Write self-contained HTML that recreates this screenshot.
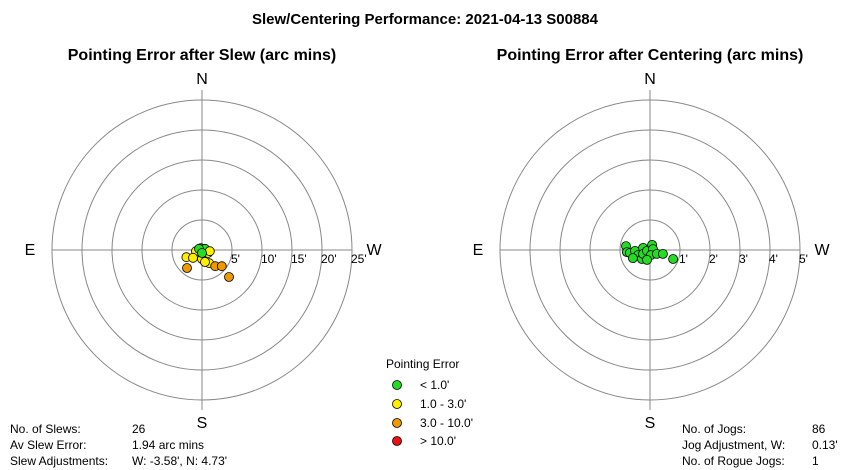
<!DOCTYPE html>
<html><head><meta charset="utf-8"><style>
body{margin:0;background:#fff;}
svg{display:block;font-family:"Liberation Sans",Arial,sans-serif;}
</style></head><body>
<svg id="chart" width="850" height="470" viewBox="0 0 850 470">
<rect width="850" height="470" fill="#fff"/>
<text x="425" y="24" text-anchor="middle" font-size="15" font-weight="bold">Slew/Centering Performance: 2021-04-13 S00884</text>
<g id="left"></g>
<g id="right"></g>
<g>
<text x="386" y="368" font-size="12">Pointing Error</text>
<g><circle cx="397" cy="385" r="4.5" fill="#22dd22" stroke="#000" stroke-width="0.8"/><text x="420" y="389" font-size="12">&lt; 1.0'</text></g>
<g><circle cx="397" cy="404" r="4.5" fill="#ffee00" stroke="#000" stroke-width="0.8"/><text x="420" y="408" font-size="12">1.0 - 3.0'</text></g>
<g><circle cx="397" cy="423" r="4.5" fill="#ee9900" stroke="#000" stroke-width="0.8"/><text x="420" y="427" font-size="12">3.0 - 10.0'</text></g>
<g><circle cx="397" cy="441" r="4.5" fill="#ee1111" stroke="#000" stroke-width="0.8"/><text x="420" y="445" font-size="12">&gt; 10.0'</text></g>
</g>
<g font-size="12">
<text x="10" y="433">No. of Slews:</text><text x="132" y="433">26</text>
<text x="10" y="449">Av Slew Error:</text><text x="132" y="449">1.94 arc mins</text>
<text x="10" y="465">Slew Adjustments:</text><text x="132" y="465">W: -3.58', N: 4.73'</text>
</g>
<g font-size="12">
<text x="682" y="433">No. of Jogs:</text><text x="812" y="433">86</text>
<text x="682" y="449">Jog Adjustment, W:</text><text x="812" y="449">0.13'</text>
<text x="682" y="465">No. of Rogue Jogs:</text><text x="812" y="465">1</text>
</g>
</svg>
<script>
const slewW = [-0.2,-1,0.5,-0.5,-2.6,-1.5,0,1,1.2,0.5,1.3,0,-2.5,2.2,3.3,4.5];
const slewN = [0.3,-0.2,0.2,0.2,-1.2,-1.3,-1.5,-0.5,-2.2,-2,-0.2,-0.5,-3,-2.7,-2.7,-4.5];
const slewTicks = ["5'","10'","15'","20'","25'"];
const jogW = [-0.8,-0.77,-0.67,-0.5,-0.4,-0.27,-0.23,-0.23,-0.1,0.07,0.1,0.03,0.23,0.43,0.77,-0.57,-0.1];
const jogN = [0.13,-0.07,-0.1,-0.03,-0.17,-0.3,0.07,-0.13,-0.03,0.17,0.03,-0.17,-0.13,-0.13,-0.3,-0.27,-0.33];
const jogTicks = ["1'","2'","3'","4'","5'"];
const NS='http://www.w3.org/2000/svg';
function mk(p,tag,a){const e=document.createElementNS(NS,tag);for(const k in a)e.setAttribute(k,a[k]);p.appendChild(e);return e;}
function color(m){return m<1?'#22dd22':m<3?'#ffee00':m<10?'#ee9900':'#ee1111';}
function polar(g,cx,cy,step,maxV,ticks,W,N,title){
  const R=150, sc=R/maxV;
  const t=mk(g,'text',{x:cx,y:60,'text-anchor':'middle','font-size':16,'font-weight':'bold'});t.textContent=title;
  
  
  ticks.forEach((lab,i)=>{const r=(i+1)*step*sc;
    const c=mk(g,'circle',{cx:cx,cy:cy,r:r,fill:'none',stroke:'#888','stroke-width':1});
    
    
    const tx=mk(g,'text',{x:cx+r-1,y:cy+13,'font-size':12});tx.textContent=lab;
    
    
  });
  mk(g,'line',{x1:cx-R,y1:cy,x2:cx+R,y2:cy,stroke:'#888'});
  mk(g,'line',{x1:cx,y1:cy-R-10,x2:cx,y2:cy+R+10,stroke:'#888'});
  [['N',cx,84],['S',cx,428],['E',cx-172,255],['W',cx+172,255]].forEach(d=>{
    const l=mk(g,'text',{x:d[1],y:d[2],'text-anchor':'middle','font-size':16});l.textContent=d[0];
    
    
  });
  W.forEach((w,i)=>{const n=N[i],m=Math.hypot(w,n);
    const p=mk(g,'circle',{cx:cx+w*sc,cy:cy-n*sc,r:4.5,fill:color(m),stroke:'#000','stroke-width':0.8});
    
    
  });
}
polar(document.getElementById('left'),202,250,5,25,slewTicks,slewW,slewN,'Pointing Error after Slew (arc mins)');
polar(document.getElementById('right'),650,250,1,5,jogTicks,jogW,jogN,'Pointing Error after Centering (arc mins)');
</script>
</body></html>
